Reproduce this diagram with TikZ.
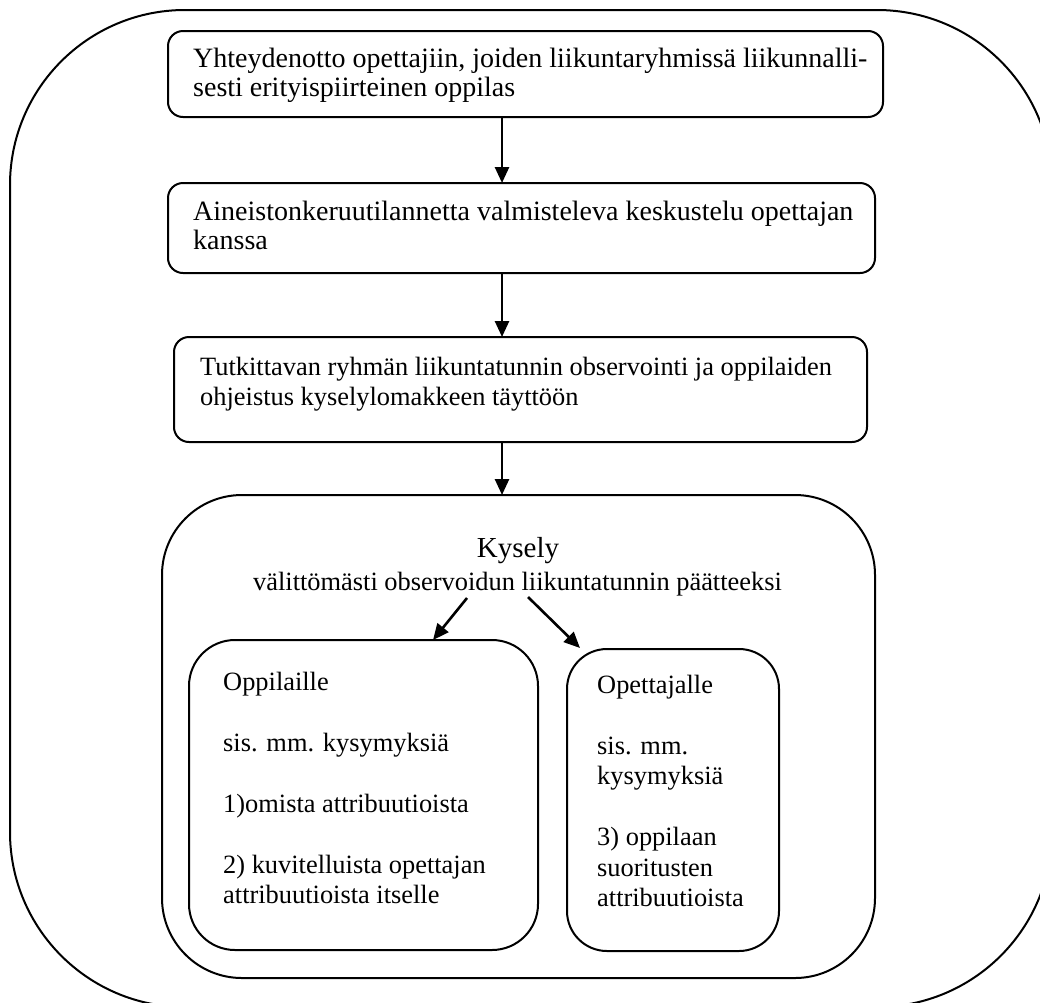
\documentclass[tikz,border=0pt]{standalone}
\usepackage{fontspec}
\setmainfont{Liberation Serif}
\usetikzlibrary{arrows.meta}

\begin{document}
\begin{tikzpicture}[x=1pt,y=-1pt,
  box/.style={draw, line width=2pt, inner sep=0pt, outer sep=0pt},
  txt/.style={anchor=base west, inner sep=0pt, font=\fontsize{26.4}{30.5}\selectfont},
  bigtxt/.style={txt, font=\fontsize{28}{29.5}\selectfont},
  ctxt/.style={anchor=base, inner sep=0pt, font=\fontsize{26.4}{30.5}\selectfont},
  arr/.style={line width=2.6pt, -{Triangle[length=16pt,width=14pt]}}]
\useasboundingbox (0,0) rectangle (1040,1002);
\clip (0,0) rectangle (1040,1002);

% enclosing frame
\node[box, rounded corners=175pt, minimum width=1042pt, minimum height=997pt] (frame) at (531,508.5) {};

% process steps
\node[box, rounded corners=15pt, minimum width=715pt, minimum height=86pt] (b1) at (525.5,74) {};
\node[box, rounded corners=15pt, minimum width=707pt, minimum height=90pt] (b2) at (521.5,228) {};
\node[box, rounded corners=15pt, minimum width=693pt, minimum height=105pt] (b3) at (520.5,389.5) {};
\node[box, rounded corners=80pt, minimum width=713pt, minimum height=483pt] (b4) at (518.5,736.5) {};
\node[box, rounded corners=46pt, minimum width=349pt, minimum height=310pt] (b5) at (363.5,795) {};
\node[box, rounded corners=40pt, minimum width=212pt, minimum height=302pt] (b6) at (673,800) {};

% texts
\node[bigtxt] (t1) at (193,67) {\begin{tabular}[t]{@{}l@{}}Yhteydenotto opettajiin, joiden liikuntaryhmissä liikunnalli-\\sesti erityispiirteinen oppilas\end{tabular}};
\node[bigtxt] (t2) at (193,220) {\begin{tabular}[t]{@{}l@{}}Aineistonkeruutilannetta valmisteleva keskustelu opettajan\\kanssa\end{tabular}};
\node[txt] (t3) at (200,375) {\begin{tabular}[t]{@{}l@{}}Tutkittavan ryhmän liikuntatunnin observointi ja oppilaiden\\ohjeistus kyselylomakkeen täyttöön\end{tabular}};
\node[ctxt, font=\fontsize{29}{33}\selectfont] (t4) at (518,557) {Kysely};
\node[ctxt] (t4b) at (517.5,590) {välittömästi observoidun liikuntatunnin päätteeksi};
\node[txt] (t5) at (223,690) {\begin{tabular}[t]{@{}l@{}}Oppilaille\\ \\sis. mm. kysymyksiä\\ \\1)omista attribuutioista\\ \\2) kuvitelluista opettajan\\attribuutioista itselle\end{tabular}};
\node[txt] (t6) at (597,693) {\begin{tabular}[t]{@{}l@{}}Opettajalle\\ \\sis. mm.\\kysymyksiä\\ \\3) oppilaan\\suoritusten\\attribuutioista\end{tabular}};

% connectors
\coordinate (ax) at (502,0);
\draw[arr] (b1.south -| ax) -- (b2.north -| ax);
\draw[arr] (b2.south -| ax) -- (b3.north -| ax);
\draw[arr] (b3.south -| ax) -- (b4.north -| ax);
\coordinate (s5) at (467,598);
\coordinate (s6) at (528,597);
\coordinate (e6) at (580,648);
\draw[arr] (s5) -- (b5.north -| 433,0);
\draw[arr] (s6) -- (e6);
\end{tikzpicture}
\end{document}
